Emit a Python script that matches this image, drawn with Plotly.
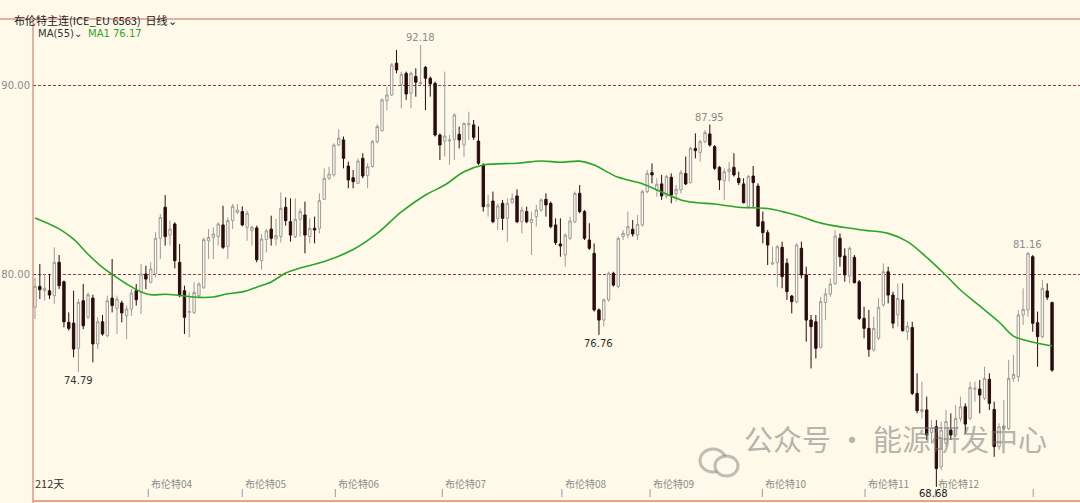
import plotly.graph_objects as go

# ---------------- data ----------------
opens = [
 78.23, 79.34, 79.11, 79.11, 78.85, 80.62, 79.59, 77.43, 77.39, 76.05,
 78.58, 77.70, 78.72, 76.28, 77.46, 76.72, 78.72, 78.17, 78.46, 77.78,
 78.14, 79.11, 79.02, 80.00, 79.56, 80.00, 81.90, 83.55, 82.07, 82.66,
 80.62, 79.11, 77.96, 77.96, 78.85, 79.29, 81.77, 81.95, 81.99, 82.61,
 81.47, 82.84, 83.28, 83.32, 82.48, 82.30, 82.45, 80.71, 81.83, 82.39,
 81.86, 82.00, 83.55,
 82.78, 81.99, 82.91, 83.14, 81.99, 82.43, 82.43, 83.97, 85.09, 85.27,
 86.86, 87.13, 85.74, 85.12, 84.82, 86.15, 85.23, 85.71, 87.04, 87.62,
 89.22, 89.52, 91.21, 90.09, 90.67, 89.61, 90.50, 90.14, 90.99, 90.41,
 90.14, 87.39, 87.07, 87.07, 87.16, 87.43, 86.86, 87.93, 87.93, 87.07,
 85.80, 83.58, 83.88, 82.96, 83.76, 82.96, 83.79, 84.15, 82.78, 83.32,
 82.73, 83.05, 83.40,
 83.97, 83.76, 82.61, 81.60, 81.01, 81.90, 82.78, 84.29, 83.32, 81.81,
 81.10, 78.09, 77.55, 78.62, 80.04, 79.33, 81.99, 82.07, 82.38, 82.07,
 82.61, 84.38, 85.39, 84.47, 84.79, 84.15, 85.14, 84.26, 84.47, 85.35,
 84.86, 86.68, 86.45, 87.04, 87.45, 86.77, 85.67, 84.96, 85.44, 85.67,
 85.09, 84.79, 83.58, 85.21, 84.68, 82.78, 82.20, 80.53, 80.60, 81.42,
 80.57, 78.83, 78.53,
 81.37, 79.95, 77.55, 77.46, 76.10, 78.48, 78.94, 79.50, 81.90, 80.96,
 79.89, 80.89, 79.59, 77.64, 77.11, 75.96, 76.58, 78.35, 80.12, 78.88,
 77.82, 78.62, 76.93, 77.15, 73.65, 72.68, 72.77, 71.58, 71.88, 69.75,
 70.99, 71.70, 71.44, 72.32, 72.94, 72.32, 73.87, 73.88, 73.39, 74.40,
 72.80, 70.82, 71.79, 71.79, 74.45, 74.54, 77.82, 78.09, 80.92, 77.41,
 76.67, 79.10, 78.48,
]
highs = [
 79.80, 80.53, 80.00, 80.00, 81.42, 81.01, 79.65, 77.96, 79.11, 78.67,
 79.47, 79.02, 78.90, 77.70, 77.82, 78.85, 80.80, 78.85, 78.58, 78.32,
 79.20, 79.47, 80.53, 80.44, 80.62, 82.22, 83.19, 84.20, 82.84, 82.75,
 81.60, 79.38, 79.02, 79.56, 79.56, 81.95, 82.39, 82.48, 82.75, 83.63,
 83.01, 83.72, 83.72, 83.60, 83.37, 82.57, 82.57, 82.13, 82.39, 83.10,
 82.93, 84.34, 84.08,
 84.02, 84.02, 83.49, 83.85, 82.96, 83.05, 84.29, 85.62, 85.71, 86.95,
 87.70, 87.31, 85.98, 85.53, 86.15, 86.42, 85.89, 87.13, 87.96, 89.34,
 89.96, 91.21, 91.91, 90.76, 90.76, 90.76, 90.94, 92.18, 91.06, 90.50,
 90.23, 87.48, 90.76, 87.39, 88.55, 87.84, 88.05, 88.63, 88.19, 87.84,
 85.89, 84.20, 84.38, 83.76, 83.94, 84.02, 84.29, 84.50, 83.58, 83.58,
 83.32, 83.67, 84.02,
 84.29, 83.85, 82.96, 82.96, 82.16, 83.05, 84.38, 84.73, 83.40, 82.70,
 81.63, 78.17, 78.71, 80.12, 80.12, 81.99, 82.34, 83.32, 82.87, 83.14,
 84.47, 85.53, 85.88, 85.09, 85.27, 85.27, 85.35, 84.73, 85.53, 86.24,
 86.77, 87.48, 87.13, 87.66, 87.95, 86.86, 85.74, 85.62, 85.97, 86.42,
 85.44, 85.09, 85.27, 85.74, 84.82, 83.32, 82.34, 81.45, 81.54, 81.72,
 80.83, 78.88, 81.63,
 81.72, 80.39, 77.82, 77.82, 78.79, 79.24, 79.77, 82.34, 82.16, 81.37,
 81.45, 81.01, 79.68, 78.26, 78.09, 77.73, 78.71, 80.57, 80.39, 79.06,
 79.50, 79.50, 77.46, 77.46, 74.72, 74.27, 73.48, 72.23, 72.23, 72.15,
 72.77, 72.59, 73.03, 73.48, 73.12, 74.27, 74.27, 74.36, 75.07, 74.72,
 73.21, 72.06, 73.30, 75.43, 75.69, 78.09, 79.24, 81.16, 81.01, 78.00,
 79.68, 79.50, 78.53,
]
lows = [
 77.61, 78.67, 78.58, 78.67, 78.40, 79.20, 77.16, 76.99, 75.57, 74.79,
 77.07, 77.61, 75.30, 76.01, 76.72, 76.63, 77.96, 76.81, 77.43, 76.54,
 77.78, 78.32, 77.87, 79.20, 79.50, 79.82, 80.80, 81.51, 81.51, 80.30,
 78.76, 76.81, 76.63, 77.87, 78.76, 79.20, 80.80, 80.80, 81.51, 81.33,
 80.80, 82.39, 83.19, 82.54, 81.77, 81.51, 80.62, 80.23, 81.15, 81.51,
 81.51, 81.68, 82.57,
 81.72, 81.90, 81.99, 81.10, 81.63, 81.63, 82.16, 83.94, 85.00, 85.18,
 86.80, 85.62, 84.56, 84.56, 84.82, 85.09, 84.56, 85.66, 86.95, 87.57,
 88.72, 89.47, 90.67, 88.81, 89.26, 88.81, 89.43, 90.05, 88.72, 89.43,
 87.31, 86.06, 86.24, 85.80, 86.06, 86.68, 86.24, 87.13, 87.13, 85.80,
 83.32, 83.05, 82.70, 82.34, 82.34, 81.72, 83.76, 82.70, 82.16, 82.70,
 81.01, 82.52, 83.32,
 83.05, 82.43, 81.54, 80.92, 80.39, 81.81, 82.70, 83.23, 81.81, 81.28,
 78.00, 76.76, 77.20, 78.53, 79.33, 79.24, 81.81, 81.90, 81.99, 81.81,
 82.52, 84.29, 84.82, 84.11, 83.94, 84.02, 83.76, 83.85, 84.29, 84.73,
 84.82, 86.15, 85.97, 86.95, 86.77, 85.53, 84.47, 83.94, 84.91, 85.18,
 84.73, 83.76, 83.49, 83.55, 82.52, 81.63, 80.48, 80.48, 79.33, 79.24,
 78.62, 77.91, 78.44,
 79.77, 76.40, 74.98, 75.51, 76.05, 77.55, 78.79, 79.41, 80.39, 79.59,
 79.50, 79.50, 77.55, 76.58, 75.60, 75.87, 76.49, 78.26, 78.44, 77.11,
 77.20, 76.93, 76.49, 73.56, 72.59, 72.32, 71.17, 70.99, 68.68, 69.57,
 70.82, 71.17, 71.35, 72.15, 71.52, 72.23, 73.21, 72.59, 73.30, 72.77,
 70.28, 70.64, 71.70, 71.70, 74.27, 74.27, 77.29, 77.73, 76.93, 75.07,
 76.58, 78.62, 74.80,
]
closes = [
 79.35, 79.17, 79.24, 78.88, 80.62, 79.38, 77.46, 77.11, 76.01, 78.49,
 77.25, 78.90, 76.28, 77.46, 76.81, 78.58, 78.32, 78.67, 77.93, 78.14,
 78.99, 78.63, 80.00, 79.73, 80.27, 81.90, 83.01, 81.99, 82.39, 80.71,
 78.85, 77.70, 78.00, 79.02, 79.47, 81.83, 81.95, 82.13, 82.66, 81.42,
 82.84, 83.60, 83.40, 82.61, 83.23, 82.48, 80.76, 81.86, 82.30, 81.90,
 82.04, 83.49, 82.84,
 82.07, 82.91, 83.32, 82.07, 82.43, 82.34, 83.90, 85.09, 85.32, 86.86,
 87.22, 86.15, 85.00, 84.91, 86.01, 85.21, 85.71, 87.04, 87.84, 89.26,
 89.52, 91.12, 90.85, 90.62, 89.57, 90.67, 90.20, 90.18, 90.41, 90.11,
 87.39, 86.86, 87.34, 87.13, 88.46, 87.13, 88.01, 88.01, 87.27, 85.89,
 83.58, 83.70, 82.78, 83.62, 82.96, 83.76, 84.02, 82.78, 83.40, 82.78,
 82.91, 83.40, 83.94,
 83.67, 82.52, 81.67, 81.49, 82.07, 82.82, 84.29, 83.32, 81.90, 81.37,
 78.09, 77.55, 78.62, 80.04, 79.41, 81.90, 82.16, 82.52, 82.13, 82.64,
 84.38, 85.35, 85.27, 84.77, 84.15, 85.18, 84.20, 84.50, 85.39, 84.79,
 86.68, 86.56, 87.04, 87.52, 86.86, 85.62, 85.00, 85.44, 85.58, 85.27,
 84.86, 83.79, 85.18, 84.86, 82.55, 82.20, 81.54, 80.60, 81.45, 79.86,
 79.06, 78.53, 81.54,
 79.95, 77.55, 77.20, 76.05, 78.53, 78.94, 79.47, 82.02, 80.92, 79.95,
 81.37, 79.54, 77.64, 77.11, 75.99, 77.11, 78.23, 80.12, 78.88, 77.38,
 78.71, 76.99, 77.23, 73.65, 72.73, 72.80, 71.44, 71.83, 69.66, 71.70,
 72.15, 71.44, 72.32, 72.94, 72.02, 73.97, 73.92, 73.56, 74.45, 73.12,
 70.82, 71.88, 71.92, 74.45, 74.66, 77.82, 78.12, 81.10, 77.38, 76.67,
 79.24, 78.76, 74.89,
]
days = list(range(len(closes)))

# MA(55) line (candle index, value)
ma_idx = [0, 5, 8, 11, 14, 16, 19, 22, 24, 27, 30, 34, 37, 40, 43, 46, 49, 52,
          55, 60, 66, 71, 76, 81, 85, 89, 93, 100, 105, 109, 113, 116, 119, 121,
          126, 130, 134, 137, 141, 146, 152, 156, 159, 162, 165, 168, 172, 177,
          181, 185, 189, 192, 196, 200, 203, 206, 211]
ma_val = [82.98, 82.40, 81.85, 81.05, 80.35, 79.98, 79.47, 79.05, 78.90, 78.92,
          78.86, 78.76, 78.78, 78.95, 79.05, 79.30, 79.58, 80.05, 80.32, 80.66,
          81.30, 82.16, 83.30, 84.20, 84.73, 85.44, 85.80, 85.89, 86.01, 85.94,
          86.00, 85.80, 85.39, 85.14, 84.80, 84.36, 83.94, 83.80, 83.72, 83.55,
          83.48, 83.26, 83.05, 82.78, 82.60, 82.47, 82.33, 82.16, 81.72, 80.88,
          79.92, 79.15, 78.30, 77.45, 76.70, 76.44, 76.17]

month_labels = ["布伦特04", "布伦特05", "布伦特06", "布伦特07", "布伦特08",
                "布伦特09", "布伦特10", "布伦特11", "布伦特12", ""]
month_pos = [23.5, 43, 62.3, 84.5, 109.3, 127.6, 150.9, 172.2, 186.8, 207.1]

ytick_vals = [80, 90]
ytick_text = ["80.00", "90.00"]

# extreme markers: (candle index, price, text, is_high)
marks = [(80, 92.18, "92.18", True), (140, 87.95, "87.95", True),
         (206, 81.16, "81.16", True), (9, 74.79, "74.79", False),
         (117, 76.76, "76.76", False), (187, 68.68, "68.68", False)]

# ---------------- styling ----------------
BG = "#FEF9E8"
L, R, T, B = 33, 0, 19, 2
W, H = 1080, 503
PW, PH = W - L - R, H - T - B


def px(x):
    return (x - L) / PW


def py(y):
    return (H - B - y) / PH


fig = go.Figure()
fig.add_trace(go.Candlestick(
    x=days, open=opens, high=highs, low=lows, close=closes,
    increasing=dict(line=dict(color="#9c9c9c", width=1), fillcolor=BG),
    decreasing=dict(line=dict(color="#2a0c0c", width=1), fillcolor="#2a0c0c"),
    whiskerwidth=0, showlegend=False, hoverinfo="skip"))
fig.add_trace(go.Scatter(x=ma_idx, y=ma_val, mode="lines", line_shape="spline",
                         line=dict(color="#2aa52a", width=1.6), showlegend=False,
                         hoverinfo="skip"))

NUM = "DejaVu Sans"
CJK = "Noto Sans CJK SC"
ann = []
for i, p, t, hi in marks:
    if hi:
        ann.append(dict(x=i, y=p, xref="x", yref="y", text=t, showarrow=False,
                        yanchor="bottom", yshift=0, font=dict(family=NUM, size=10, color="#8c8c8c")))
    elif t == "68.68":
        ann.append(dict(x=i, y=p, xref="x", yref="y", text=t, showarrow=False,
                        yanchor="top", yshift=1, xshift=-3,
                        font=dict(family=NUM, size=10, color="#1a1a1a")))
    else:
        ann.append(dict(x=i, y=p, xref="x", yref="y", text=t, showarrow=False,
                        yanchor="top", yshift=-1, font=dict(family=NUM, size=10, color="#333333")))

shapes = []
for lab, pos in zip(month_labels, month_pos):
    shapes.append(dict(type="line", xref="x", yref="paper", x0=pos, x1=pos,
                       y0=py(497), y1=py(489), line=dict(color="#9a9a9a", width=1)))
    if lab:
        ann.append(dict(x=pos, y=py(493), xref="x", yref="paper", text=lab,
                        showarrow=False, xanchor="left", xshift=1,
                        font=dict(family=CJK, size=10, color="#8c8c8c")))

ann.append(dict(x=px(33), y=py(493), xref="paper", yref="paper", text="212天",
                showarrow=False, xanchor="left", font=dict(family=CJK, size=11, color="#333333")))
ann.append(dict(x=px(12), y=py(10), xref="paper", yref="paper",
                text="布伦特主连(ICE_EU 6563)  日线⌄", showarrow=False, xanchor="left",
                font=dict(family=CJK, size=11, color="#222222")))
ann.append(dict(x=px(36), y=py(26), xref="paper", yref="paper",
                text="MA(55)⌄", showarrow=False, xanchor="left",
                font=dict(family=NUM, size=10, color="#333333")))
ann.append(dict(x=px(86), y=py(26), xref="paper", yref="paper",
                text="MA1 76.17", showarrow=False, xanchor="left",
                font=dict(family=NUM, size=10, color="#2aa52a")))
ann.append(dict(x=px(742), y=py(461), xref="paper", yref="paper",
                text="公众号 · 能源研发中心", showarrow=False, xanchor="left",
                font=dict(family=CJK, size=29, color="rgba(120,120,120,0.55)")))

# wechat-like icon of the watermark
shapes.append(dict(type="circle", xref="paper", yref="paper", x0=px(700), x1=px(726),
                   y0=py(472), y1=py(449), line=dict(color="rgba(130,130,130,0.5)", width=3)))
shapes.append(dict(type="circle", xref="paper", yref="paper", x0=px(715), x1=px(738),
                   y0=py(476), y1=py(456), fillcolor=BG,
                   line=dict(color="rgba(130,130,130,0.5)", width=3)))

# frame lines
shapes.append(dict(type="line", xref="paper", yref="paper", x0=px(0), x1=1, y0=py(19), y1=py(19),
                   line=dict(color="#c86a5a", width=1)))
shapes.append(dict(type="line", xref="paper", yref="paper", x0=0, x1=0, y0=py(19), y1=py(503),
                   line=dict(color="#c86a5a", width=1)))
shapes.append(dict(type="line", xref="paper", yref="paper", x0=0, x1=1, y0=py(501), y1=py(501),
                   line=dict(color="#e6a48c", width=2)))

fig.update_layout(
    width=W, height=H, margin=dict(l=L, r=R, t=T, b=B, autoexpand=False),
    paper_bgcolor=BG, plot_bgcolor=BG,
    xaxis=dict(range=[-0.42, 216.8], showgrid=False, zeroline=False, showticklabels=False,
               rangeslider=dict(visible=False), fixedrange=True, automargin=False),
    yaxis=dict(range=[67.93, 93.56], tickvals=ytick_vals, ticktext=ytick_text,
               showgrid=True, gridcolor="#9a3b3b", griddash="3px,2px", gridwidth=1,
               zeroline=False, ticks="", tickfont=dict(family=NUM, size=10, color="#8c8c8c"),
               ticklabelstandoff=2, automargin=False),
    annotations=ann, shapes=shapes, showlegend=False,
)

fig.write_html("out.html", config={"displayModeBar": False},
               post_script="document.body.style.margin='0';"
                           "document.body.style.background='#FEF9E8';"
                           "document.body.style.overflow='hidden';")
